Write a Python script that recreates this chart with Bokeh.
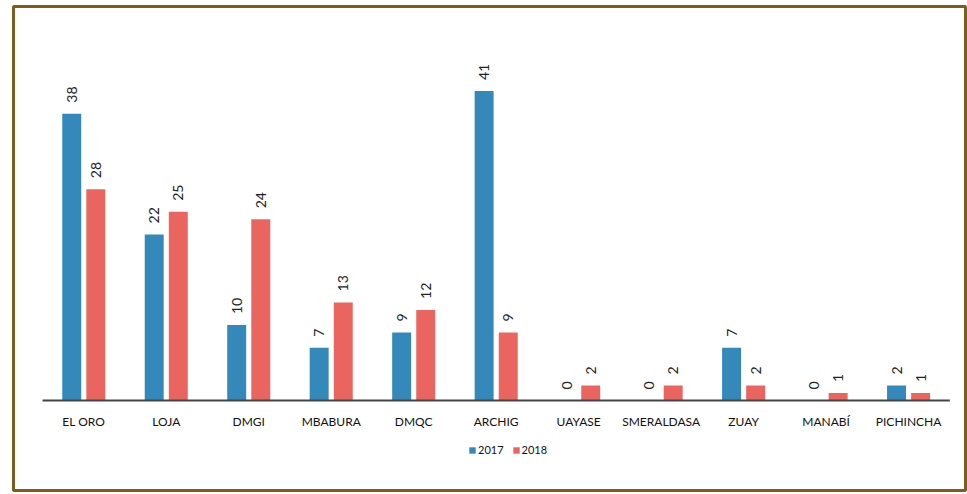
import math
from bokeh.plotting import figure
from bokeh.models import Range1d, FixedTicker, ColumnDataSource, Legend, LegendItem
from bokeh.core.properties import value
from bokeh.embed import file_html
from bokeh.resources import INLINE

categories = ["EL ORO", "LOJA", "DMGI", "MBABURA", "DMQC", "ARCHIG",
              "UAYASE", "SMERALDASA", "ZUAY", "MANABÍ", "PICHINCHA"]
series_2017 = [38, 22, 10, 7, 9, 41, 0, 0, 7, 0, 2]
series_2018 = [28, 25, 24, 13, 12, 9, 2, 2, 2, 1, 1]
series_names = ["2017", "2018"]

BLUE = "#3489ba"
RED = "#ea6460"
FRAME = "#7d5c1e"
FONT = "Lato"

n = len(categories)
centers = [i + 0.5 for i in range(n)]
offset = 0.146
bw = 0.23

p = figure(width=967, height=494, output_backend="svg", toolbar_location=None,
           x_range=Range1d(-0.352, 11.19), y_range=Range1d(-11.92, 52.2),
           min_border_left=13, min_border_right=2, min_border_top=6, min_border_bottom=4)
p.background_fill_color = "white"
p.border_fill_color = "white"
p.outline_line_color = FRAME
p.outline_line_width = 3
p.xgrid.visible = False
p.ygrid.visible = False
p.yaxis.visible = False

src17 = ColumnDataSource(dict(x=[c - offset for c in centers], top=series_2017,
                              lab=[str(v) for v in series_2017]))
src18 = ColumnDataSource(dict(x=[c + offset for c in centers], top=series_2018,
                              lab=[str(v) for v in series_2018]))

r17 = p.vbar(x="x", top="top", width=bw, bottom=0, source=src17, fill_color=BLUE, line_color=None)
r18 = p.vbar(x="x", top="top", width=bw, bottom=0, source=src18, fill_color=RED, line_color=None)

for src in (src17, src18):
    p.text(x="x", y="top", text="lab", source=src, angle=math.pi / 2,
           text_align="left", text_baseline="middle", y_offset=-11,
           text_font=value(FONT), text_font_size="14px", text_color="#222222")

# baseline
p.segment(x0=[0], y0=[0], x1=[n], y1=[0], line_color="#444444", line_width=2)

ax = p.xaxis[0]
ax.fixed_location = 0
ax.ticker = FixedTicker(ticks=centers)
ax.major_label_overrides = {c: lab for c, lab in zip(centers, categories)}
ax.axis_line_color = None
ax.major_tick_line_color = None
ax.minor_tick_line_color = None
ax.major_label_standoff = 7
ax.major_label_text_font = FONT
ax.major_label_text_font_size = "12px"
ax.major_label_text_color = "#111111"

legend = Legend(items=[LegendItem(label=series_names[0], renderers=[r17]),
                       LegendItem(label=series_names[1], renderers=[r18])],
                orientation="horizontal", location=(455, 34),
                glyph_width=8, glyph_height=8, label_standoff=2, spacing=8,
                padding=0, margin=0, border_line_color=None, background_fill_alpha=0,
                label_text_font=FONT, label_text_font_size="11px", label_text_color="#111111")
p.add_layout(legend, "center")

open("out.html", "w").write(file_html(p, INLINE))
